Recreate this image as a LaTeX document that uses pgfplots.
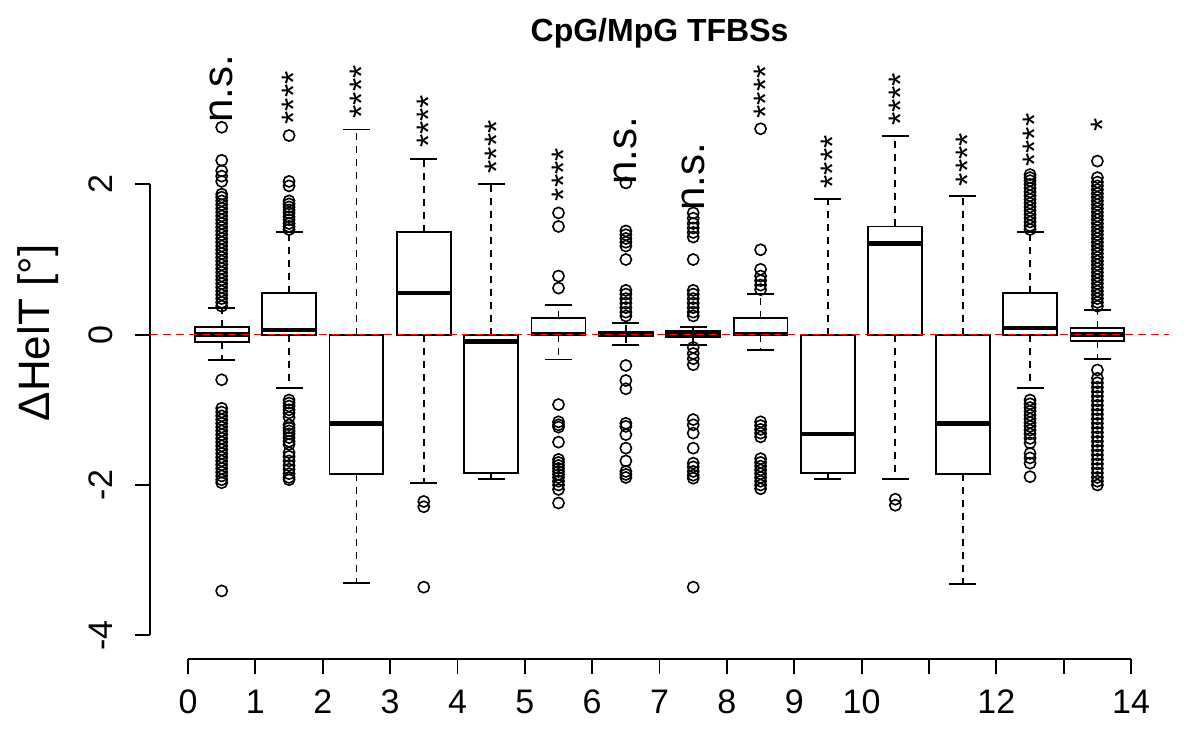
\documentclass[border=0pt]{standalone}
\usepackage{fontspec}
\setmainfont{Liberation Sans}
\usepackage{pgfplots}
\pgfplotsset{compat=1.18}
\usepgfplotslibrary{statistics}

\pgfplotsset{
  rbox/.style={
    black, line width=0.9pt, solid,
    mark=o, mark size=2.8pt,
    mark options={solid, line width=0.8pt, fill=none},
    boxplot/draw direction=y,
    boxplot/box extend=0.8,
    boxplot/whisker extend=0.4,
    boxplot/every median/.style={line width=2.3pt},
    boxplot/every box/.style={fill=white},
    boxplot/draw/lower whisker/.code={
      \draw[black, line width=0.9pt, dash pattern=on 3.5pt off 3pt]
        (boxplot cs:\pgfplotsboxplotvalue{lower quartile}) -- (boxplot cs:\pgfplotsboxplotvalue{lower whisker});
      \draw[black, line width=0.9pt]
        (boxplot whisker cs:\pgfplotsboxplotvalue{lower whisker},0) -- (boxplot whisker cs:\pgfplotsboxplotvalue{lower whisker},1);
    },
    boxplot/draw/upper whisker/.code={
      \draw[black, line width=0.9pt, dash pattern=on 3.5pt off 3pt]
        (boxplot cs:\pgfplotsboxplotvalue{upper quartile}) -- (boxplot cs:\pgfplotsboxplotvalue{upper whisker});
      \draw[black, line width=0.9pt]
        (boxplot whisker cs:\pgfplotsboxplotvalue{upper whisker},0) -- (boxplot whisker cs:\pgfplotsboxplotvalue{upper whisker},1);
    },
  },
}
\tikzset{
  star/.style={font=\fontsize{17}{20}\selectfont, xshift=2.6pt, rotate=90, inner sep=0pt},
  ns/.style={font=\fontsize{21}{25}\selectfont, rotate=90, inner sep=0pt},
}

\begin{document}
\begin{tikzpicture}
\path[use as bounding box] (-75.15pt,-45.35pt) rectangle (524.85pt,329.65pt);
\begin{axis}[
  at={(0,0)}, anchor=south west,
  scale only axis, width=509.25pt, height=312.6pt,
  xmin=-0.56, xmax=14.56, ymin=-4.32, ymax=4.0,
  clip=false,
  axis lines*=left,
  axis line style={draw=none},
  tick align=outside,
  major tick length=7.5pt,
  tick style={black, line width=0.9pt},
  xtick={0,1,2,3,4,5,6,7,8,9,10,11,12,13,14},
  xticklabels={0,1,2,3,4,5,6,7,8,9,10,,12,,14},
  ytick={-4,-2,0,2},
  yticklabels={-4,-2,0,2},
  tick label style={font=\fontsize{17}{20}\selectfont},
  xticklabel style={anchor=north, inner sep=0pt, yshift=-7.5pt},
  yticklabel style={xshift=-11pt, rotate=90, anchor=south, inner sep=0pt},
  ylabel={ΔHelT [°]},
  ylabel style={at={(axis description cs:-0.1103,0.522)}, anchor=center, inner sep=0pt, font=\fontsize{22}{26}\selectfont},
]
% axis lines in R style
\draw[black, line width=0.9pt] (axis cs:0,-4.32) -- (axis cs:14,-4.32);
\draw[black, line width=0.9pt] (axis cs:-0.56,-4) -- (axis cs:-0.56,2);

% 1
\addplot[rbox, boxplot prepared={draw position=0.5, lower whisker=-0.34, lower quartile=-0.10, median=0.0, upper quartile=0.10, upper whisker=0.36}]
table[row sep=\\, y index=0] {data\\ 0.38\\0.43\\0.48\\0.53\\0.58\\0.63\\0.68\\0.73\\0.78\\0.83\\0.88\\0.93\\0.98\\1.03\\1.08\\1.13\\1.18\\1.23\\1.28\\1.33\\1.38\\1.43\\1.48\\1.53\\1.58\\1.63\\1.68\\1.73\\1.78\\1.83\\1.87\\2.04\\2.11\\2.18\\2.32\\2.76\\
-0.60\\-0.98\\-1.03\\-1.08\\-1.13\\-1.18\\-1.23\\-1.28\\-1.33\\-1.38\\-1.43\\-1.48\\-1.53\\-1.58\\-1.63\\-1.68\\-1.73\\-1.78\\-1.83\\-1.88\\-1.93\\-1.97\\-3.41\\};
% 2
\addplot[rbox, boxplot prepared={draw position=1.5, lower whisker=-0.71, lower quartile=0.0, median=0.06, upper quartile=0.55, upper whisker=1.37}]
table[row sep=\\, y index=0] {data\\ 1.40\\1.44\\1.48\\1.53\\1.57\\1.62\\1.66\\1.70\\1.74\\1.78\\1.98\\2.04\\2.65\\
-0.87\\-0.91\\-0.95\\-1.00\\-1.04\\-1.10\\-1.20\\-1.24\\-1.28\\-1.32\\-1.37\\-1.42\\-1.46\\-1.57\\-1.62\\-1.68\\-1.74\\-1.79\\-1.85\\-1.90\\-1.93\\};
% 3
\addplot[rbox, boxplot prepared={draw position=2.5, lower whisker=-3.30, lower quartile=-1.85, median=-1.18, upper quartile=0.0, upper whisker=2.73}] coordinates {};
% 4
\addplot[rbox, boxplot prepared={draw position=3.5, lower whisker=-1.97, lower quartile=0.0, median=0.556, upper quartile=1.37, upper whisker=2.34}]
table[row sep=\\, y index=0] {data\\ -2.22\\-2.29\\-3.36\\};
% 5
\addplot[rbox, boxplot prepared={draw position=4.5, lower whisker=-1.92, lower quartile=-1.84, median=-0.09, upper quartile=0.0, upper whisker=2.0}] coordinates {};
% 6
\addplot[rbox, boxplot prepared={draw position=5.5, lower whisker=-0.33, lower quartile=0.0, median=0.01, upper quartile=0.22, upper whisker=0.39}]
table[row sep=\\, y index=0] {data\\ 0.62\\0.78\\1.44\\1.62\\
-0.93\\-1.16\\-1.20\\-1.23\\-1.43\\-1.66\\-1.70\\-1.74\\-1.78\\-1.82\\-1.86\\-1.90\\-1.95\\-2.00\\-2.06\\-2.24\\};
% 7
\addplot[rbox, boxplot prepared={draw position=6.5, lower whisker=-0.14, lower quartile=-0.02, median=0.0, upper quartile=0.04, upper whisker=0.16}]
table[row sep=\\, y index=0] {data\\ 0.25\\0.30\\0.36\\0.42\\0.48\\0.54\\0.59\\1.00\\1.18\\1.23\\1.28\\1.33\\1.38\\2.02\\
-0.41\\-0.61\\-0.72\\-1.18\\-1.22\\-1.33\\-1.51\\-1.68\\-1.82\\-1.86\\-1.90\\};
% 8
\addplot[rbox, boxplot prepared={draw position=7.5, lower whisker=-0.14, lower quartile=-0.03, median=0.0, upper quartile=0.05, upper whisker=0.10}]
table[row sep=\\, y index=0] {data\\ 0.25\\0.30\\0.36\\0.42\\0.48\\0.54\\0.59\\1.00\\1.30\\1.36\\1.42\\1.48\\1.55\\1.62\\
-0.17\\-0.25\\-0.32\\-0.40\\-1.13\\-1.20\\-1.31\\-1.51\\-1.71\\-1.76\\-1.82\\-1.87\\-1.91\\-3.36\\};
% 9
\addplot[rbox, boxplot prepared={draw position=8.5, lower whisker=-0.20, lower quartile=0.0, median=0.01, upper quartile=0.22, upper whisker=0.54}]
table[row sep=\\, y index=0] {data\\ 0.60\\0.66\\0.72\\0.78\\0.87\\1.13\\2.74\\
-1.16\\-1.21\\-1.26\\-1.31\\-1.36\\-1.65\\-1.70\\-1.75\\-1.80\\-1.85\\-1.90\\-1.95\\-2.00\\-2.05\\};
% 10
\addplot[rbox, boxplot prepared={draw position=9.5, lower whisker=-1.92, lower quartile=-1.84, median=-1.32, upper quartile=0.0, upper whisker=1.81}] coordinates {};
% 11
\addplot[rbox, boxplot prepared={draw position=10.5, lower whisker=-1.92, lower quartile=0.0, median=1.21, upper quartile=1.44, upper whisker=2.64}]
table[row sep=\\, y index=0] {data\\ -2.19\\-2.27\\};
% 12
\addplot[rbox, boxplot prepared={draw position=11.5, lower whisker=-3.32, lower quartile=-1.85, median=-1.18, upper quartile=0.0, upper whisker=1.85}] coordinates {};
% 13
\addplot[rbox, boxplot prepared={draw position=12.5, lower whisker=-0.71, lower quartile=0.0, median=0.09, upper quartile=0.556, upper whisker=1.37}]
table[row sep=\\, y index=0] {data\\ 1.40\\1.45\\1.50\\1.55\\1.60\\1.65\\1.70\\1.75\\1.80\\1.85\\1.90\\1.95\\2.00\\2.05\\2.09\\2.13\\
-0.87\\-0.92\\-0.97\\-1.02\\-1.07\\-1.12\\-1.17\\-1.22\\-1.27\\-1.32\\-1.38\\-1.44\\-1.58\\-1.64\\-1.71\\-1.89\\};
% 14
\addplot[rbox, boxplot prepared={draw position=13.5, lower whisker=-0.32, lower quartile=-0.08, median=0.0, upper quartile=0.09, upper whisker=0.33}]
table[row sep=\\, y index=0] {data\\ 0.38\\0.43\\0.48\\0.53\\0.58\\0.63\\0.68\\0.73\\0.78\\0.83\\0.88\\0.93\\0.98\\1.03\\1.08\\1.13\\1.18\\1.23\\1.28\\1.33\\1.38\\1.43\\1.48\\1.53\\1.58\\1.63\\1.68\\1.73\\1.78\\1.83\\1.88\\1.93\\1.98\\2.03\\2.09\\2.31\\
-0.47\\-0.58\\-0.64\\-0.70\\-0.76\\-0.82\\-0.88\\-0.94\\-1.00\\-1.06\\-1.12\\-1.18\\-1.24\\-1.30\\-1.36\\-1.42\\-1.48\\-1.54\\-1.60\\-1.66\\-1.72\\-1.78\\-1.84\\-1.90\\-1.95\\-2.00\\};

% red reference line
\addplot[red, line width=0.8pt, dash pattern=on 4pt off 2.5pt] coordinates {(-0.56,0) (14.56,0)};

% significance labels
\node[ns]   at (axis cs:0.5,3.27)  {n.s.};
\node[star] at (axis cs:1.5,3.15)  {****};
\node[star] at (axis cs:2.5,3.23)  {****};
\node[star] at (axis cs:3.5,2.84)  {****};
\node[star] at (axis cs:4.5,2.50)  {****};
\node[star] at (axis cs:5.5,2.13)  {****};
\node[ns]   at (axis cs:6.5,2.45)  {n.s.};
\node[ns]   at (axis cs:7.5,2.10)  {n.s.};
\node[star] at (axis cs:8.5,3.23)  {****};
\node[star] at (axis cs:9.5,2.30)  {****};
\node[star] at (axis cs:10.5,3.13) {****};
\node[star] at (axis cs:11.5,2.33) {****};
\node[star] at (axis cs:12.5,2.59) {****};
\node[star] at (axis cs:13.5,2.79) {*};

% title
\node[anchor=base, font=\bfseries\fontsize{16}{19}\selectfont] at (axis cs:7,3.895) {CpG/MpG TFBSs};
\end{axis}
\end{tikzpicture}
\end{document}
